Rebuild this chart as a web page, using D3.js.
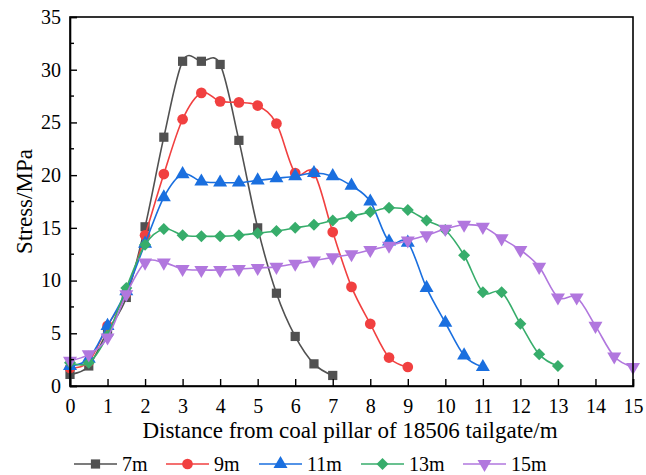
<!DOCTYPE html>
<html>
<head>
<meta charset="utf-8">
<script src="https://cdn.jsdelivr.net/npm/d3@7"></script>
<style>
  html, body { margin: 0; padding: 0; background: #fff; }
  svg { display: block; }
  svg text { font-family: "Liberation Serif", "Times New Roman", serif; fill: #000; }
</style>
</head>
<body>
<svg id="chart" width="646" height="475"></svg>
<script>
// Stress distribution in the coal pillar for different pillar widths
const seriesNames = ["7m", "9m", "11m", "13m", "15m"];
const seriesColors = ["#515151", "#F14040", "#1A6FDF", "#37AD6B", "#B177DE"];
const seriesSymbols = ["square", "circle", "triangle", "diamond", "triangleDown"];

const stress7 = [1.1, 1.9, 5.2, 8.4, 15.1, 23.6, 30.8, 30.8, 30.5, 23.3, 15.0, 8.8, 4.7, 2.1, 1.0];
const stress9 = [1.7, 2.3, 5.7, 8.8, 14.3, 20.1, 25.3, 27.8, 27.0, 26.9, 26.6, 24.9, 20.2, 20.2, 14.6, 9.4, 5.9, 2.7, 1.8];
const stress11 = [1.9, 2.6, 5.7, 9.0, 13.5, 17.9, 20.1, 19.4, 19.3, 19.3, 19.5, 19.7, 19.9, 20.2, 19.9, 19.0, 17.5, 13.7, 13.6, 9.3, 6.0, 2.9, 1.8];
const stress13 = [2.2, 2.2, 4.8, 9.3, 13.4, 14.9, 14.3, 14.2, 14.2, 14.3, 14.5, 14.7, 15.0, 15.3, 15.7, 16.1, 16.5, 16.9, 16.7, 15.7, 14.8, 12.4, 8.9, 8.9, 5.9, 3.0, 1.9];
const stress15 = [2.4, 3.0, 4.6, 8.7, 11.7, 11.7, 11.1, 11.0, 11.0, 11.1, 11.2, 11.3, 11.6, 11.9, 12.2, 12.5, 12.9, 13.3, 13.8, 14.3, 14.9, 15.3, 15.1, 14.0, 12.9, 11.3, 8.4, 8.4, 5.7, 2.8, 1.8];
const allStress = [stress7, stress9, stress11, stress13, stress15];

const xStep = 0.5;
const xTicks = d3.range(0, 16, 1);
const yTicks = d3.range(0, 36, 5);
const yMinorTicks = d3.range(2.5, 35, 5);

const xTitle = "Distance from coal pillar of 18506 tailgate/m";
const yTitle = "Stress/MPa";

const svg = d3.select("#chart");
const margin = { left: 70, top: 17, right: 13, bottom: 89 };
const W = 646, H = 475;
const x0 = margin.left, x1 = W - margin.right;
const y0 = H - margin.bottom, y1 = margin.top;

const x = d3.scaleLinear().domain([0, 15]).range([x0, x1]);
const y = d3.scaleLinear().domain([0, 35]).range([y0, y1]);

const symbolTypes = {
  square: d3.symbolSquare,
  circle: d3.symbolCircle,
  triangle: d3.symbolTriangle,
  diamond: d3.symbolSquare,
  triangleDown: d3.symbolTriangle
};
const symbolSizes = { square: 85, circle: 90, triangle: 85, diamond: 72, triangleDown: 85 };

function symbolPath(kind) {
  return d3.symbol().type(symbolTypes[kind]).size(symbolSizes[kind])();
}
function symbolTransform(kind, px, py) {
  if (kind === "triangleDown") return `translate(${px},${py}) rotate(180)`;
  if (kind === "diamond") return `translate(${px},${py}) rotate(45)`;
  return `translate(${px},${py})`;
}

// Smooth spline through the measured points
const line = d3.line()
  .x(d => x(d[0]))
  .y(d => y(d[1]))
  .curve(d3.curveCatmullRom.alpha(0));

const plot = svg.append("g");
allStress.forEach((vals, i) => {
  const pts = vals.map((v, k) => [k * xStep, v]);
  const g = plot.append("g");
  g.append("path")
    .attr("d", line(pts))
    .attr("fill", "none")
    .attr("stroke", seriesColors[i])
    .attr("stroke-width", 1.6);
  g.selectAll("path.m")
    .data(pts)
    .join("path")
    .attr("class", "m")
    .attr("d", symbolPath(seriesSymbols[i]))
    .attr("transform", d => symbolTransform(seriesSymbols[i], x(d[0]), y(d[1])))
    .attr("fill", seriesColors[i]);
});

// Frame
svg.append("rect")
  .attr("x", x0).attr("y", y1)
  .attr("width", x1 - x0).attr("height", y0 - y1)
  .attr("fill", "none").attr("stroke", "#000").attr("stroke-width", 1.6);

// Axes with inward ticks
const xAxis = d3.axisBottom(x).tickValues(xTicks).tickSize(-7).tickPadding(13).tickFormat(d3.format("d"));
const gx = svg.append("g").attr("transform", `translate(0,${y0})`).call(xAxis);
gx.select(".domain").attr("stroke", "#000").attr("stroke-width", 1.6);
gx.selectAll(".tick line").attr("stroke", "#000").attr("stroke-width", 1.4);
gx.selectAll(".tick text").style("font-size", "20px");

const yAxis = d3.axisLeft(y).tickValues(yTicks).tickSize(-7).tickPadding(9).tickFormat(d3.format("d"));
const gy = svg.append("g").attr("transform", `translate(${x0},0)`).call(yAxis);
gy.select(".domain").attr("stroke", "#000").attr("stroke-width", 1.6);
gy.selectAll(".tick line").attr("stroke", "#000").attr("stroke-width", 1.4);
gy.selectAll(".tick text").style("font-size", "20px");

gy.selectAll("line.minor")
  .data(yMinorTicks)
  .join("line")
  .attr("class", "minor")
  .attr("x1", 0).attr("x2", 4)
  .attr("y1", d => y(d)).attr("y2", d => y(d))
  .attr("stroke", "#000").attr("stroke-width", 1.4);

// Axis titles
svg.append("text")
  .attr("x", 350).attr("y", 438)
  .attr("text-anchor", "middle")
  .style("font-size", "23px")
  .text(xTitle);

svg.append("text")
  .attr("transform", `translate(32,${(y0 + y1) / 2}) rotate(-90)`)
  .attr("text-anchor", "middle")
  .style("font-size", "23px")
  .text(yTitle);

// Legend
const legendX = [74, 166, 259, 361, 463];
const legendY = 464;
const legend = svg.append("g");
seriesNames.forEach((name, i) => {
  const g = legend.append("g").attr("transform", `translate(${legendX[i]},${legendY})`);
  g.append("line").attr("x1", 0).attr("x2", 43).attr("y1", 0).attr("y2", 0)
    .attr("stroke", seriesColors[i]).attr("stroke-width", 1.6);
  g.append("path")
    .attr("d", symbolPath(seriesSymbols[i]))
    .attr("transform", symbolTransform(seriesSymbols[i], 21.5, 0))
    .attr("fill", seriesColors[i]);
  g.append("text").attr("x", 48).attr("y", 7)
    .style("font-size", "20px").text(name);
});
</script>
</body>
</html>
